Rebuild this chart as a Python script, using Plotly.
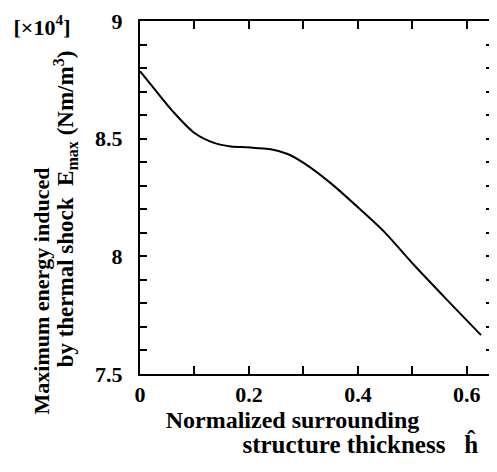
import plotly.graph_objects as go

h_vals = [0.0, 0.02, 0.063, 0.1, 0.136, 0.167, 0.198, 0.24, 0.271, 0.301, 0.35, 0.405, 0.448, 0.503, 0.564, 0.626]
E_vals = [8.787, 8.73, 8.609, 8.524, 8.482, 8.467, 8.463, 8.455, 8.435, 8.396, 8.311, 8.198, 8.105, 7.963, 7.814, 7.665]

x_hidden_labels = ["0.1", "0.3", "0.5"]
y_hidden_labels = ["7.6", "7.7", "7.8", "7.9", "8.1", "8.2", "8.3", "8.4", "8.6", "8.7", "8.8", "8.9"]

FONT = "Liberation Serif"
OFF = 7
W, H = 497 - OFF, 472 - OFF
L, R, T, B = 139 - OFF, 497 - 492, 20 - OFF, 472 - 373
NB = "\u00a0"

y_title = ("<span style='font-size:22px'><b>Maximum energy induced" + NB * 34 + "</b></span><br>"
           "<span style='font-size:23px'><b>by thermal shock" + NB * 2 + "E<sub>max</sub> (Nm/m<sup>3</sup>)"
           + NB * 4 + "</b></span>")
x_title = ("<span style='font-size:24px'><b>Normalized surrounding" + NB * 8 + "</b></span><br>"
           "<span style='font-size:25px'><b>" + NB * 14 + "structure thickness" + NB * 3 + "ĥ</b></span>")

fig = go.Figure()
fig.add_trace(go.Scatter(x=h_vals, y=E_vals, mode="lines",
                         line=dict(color="black", width=2, shape="spline", smoothing=0.8),
                         showlegend=False, hoverinfo="skip"))

axis_common = dict(showgrid=False, zeroline=False, showline=True, linecolor="black",
                   linewidth=2, mirror="ticks", ticks="inside", tickcolor="black",
                   tickwidth=2, tickfont=dict(family=FONT, size=22, color="black", weight="bold"))

fig.update_xaxes(range=[0, 0.648], tickmode="linear", tick0=0, dtick=0.1,
                 labelalias={k: " " for k in x_hidden_labels}, ticklen=8,
                 title=dict(text=x_title, standoff=0, font=dict(family=FONT, size=19, color="black")),
                 **axis_common)
fig.update_yaxes(range=[7.5, 9], tickmode="linear", tick0=7.5, dtick=0.1,
                 labelalias={k: " " for k in y_hidden_labels}, ticklen=7, ticklabelstandoff=11,
                 title=dict(text=y_title, standoff=16, font=dict(family=FONT, size=19, color="black")),
                 **axis_common)

fig.update_layout(width=W, height=H, margin=dict(l=L, r=R, t=T, b=B, autoexpand=False),
                  plot_bgcolor="white", paper_bgcolor="white",
                  title=dict(text="<b>[×10<sup>4</sup>]</b>", xref="container", yref="container",
                             x=(41 - OFF) / W, y=1 - (26 - OFF) / H, xanchor="center", yanchor="middle",
                             font=dict(family=FONT, size=22, color="black")))

fig.write_html("out.html")
